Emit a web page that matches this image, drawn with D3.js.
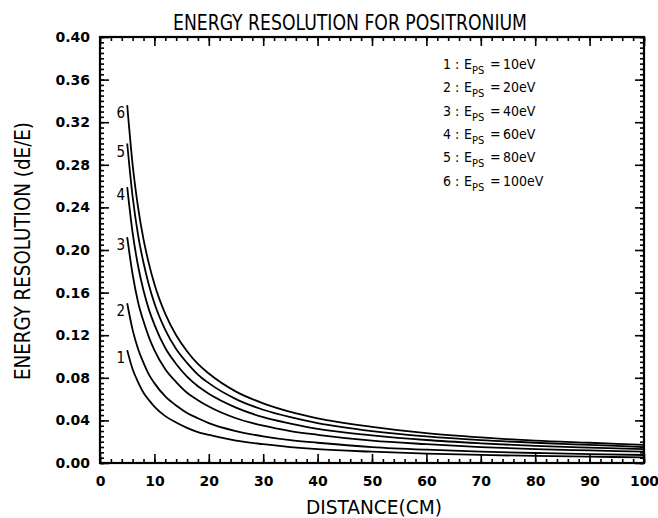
<!DOCTYPE html>
<html lang="en">
<head>
	<meta charset="utf-8">
	<title>Energy resolution for positronium</title>
	<script src="https://d3js.org/d3.v7.min.js" charset="utf-8"></script>
	<style>
		body { margin: 0; background: #fff; }
		text { fill: #000; }
	</style>
</head>
<body>
	<script>
		// distance (cm) at which the curves were read
		var distance = [5, 6, 7, 8, 9, 10, 12, 14, 16, 18, 20, 25, 30, 35, 40, 50, 60, 70, 80, 90, 100];

		// dE/E
		var res1 = [0.106, 0.088, 0.076, 0.066, 0.059, 0.053, 0.044, 0.038, 0.033, 0.029, 0.0265, 0.021, 0.0177, 0.015, 0.013, 0.0106, 0.0088, 0.0076, 0.0066, 0.0059, 0.0053];
		var res2 = [0.150, 0.125, 0.107, 0.094, 0.083, 0.075, 0.0625, 0.054, 0.047, 0.042, 0.0375, 0.030, 0.025, 0.0214, 0.019, 0.015, 0.0125, 0.0107, 0.0094, 0.0083, 0.0075];
		var res3 = [0.212, 0.177, 0.151, 0.133, 0.118, 0.106, 0.088, 0.076, 0.066, 0.059, 0.053, 0.042, 0.035, 0.030, 0.0265, 0.021, 0.0177, 0.015, 0.013, 0.0118, 0.0106];
		var res4 = [0.259, 0.216, 0.185, 0.162, 0.144, 0.130, 0.108, 0.093, 0.081, 0.072, 0.065, 0.052, 0.043, 0.037, 0.032, 0.026, 0.0216, 0.0185, 0.016, 0.0144, 0.013];
		var res5 = [0.300, 0.250, 0.214, 0.188, 0.167, 0.150, 0.125, 0.107, 0.094, 0.083, 0.075, 0.060, 0.050, 0.043, 0.0375, 0.030, 0.025, 0.0215, 0.019, 0.017, 0.015];
		var res6 = [0.336, 0.280, 0.240, 0.210, 0.187, 0.168, 0.140, 0.120, 0.105, 0.093, 0.084, 0.067, 0.056, 0.048, 0.042, 0.034, 0.028, 0.024, 0.021, 0.019, 0.017];

		var curveNames = ["1", "2", "3", "4", "5", "6"];
		var energies = ["10eV", "20eV", "40eV", "60eV", "80eV", "100eV"];
		var xTicks = [0, 10, 20, 30, 40, 50, 60, 70, 80, 90, 100];
		var yTicks = [0, 0.04, 0.08, 0.12, 0.16, 0.20, 0.24, 0.28, 0.32, 0.36, 0.40];

		var w = 658;
		var h = 518;
		var pLeft = 100, pRight = 644, pTop = 37, pBottom = 463;
		var font = "'DejaVu Sans Condensed', 'DejaVu Sans', sans-serif";

		var svg = d3.select("body")
			.append("svg")
			.attr("width", w)
			.attr("height", h);

		var xScale = d3.scaleLinear().domain([0, 100]).range([pLeft, pRight]);
		var yScale = d3.scaleLinear().domain([0, 0.40]).range([pBottom, pTop]);

		// minor ticks first, every 2 cm and every 0.005
		var xMinor = d3.range(0, 101, 2);
		var yMinor = d3.range(0, 0.4001, 0.005);

		function tickGroup(axis, tx, ty) {
			var g = svg.append("g")
				.attr("transform", "translate(" + tx + "," + ty + ")")
				.call(axis);
			g.select(".domain").remove();
			g.selectAll("line").attr("stroke", "#000").attr("stroke-width", 1.6);
			return g;
		}

		tickGroup(d3.axisBottom(xScale).tickValues(xMinor).tickFormat("").tickSizeInner(-4).tickSizeOuter(0), 0, pBottom);
		tickGroup(d3.axisTop(xScale).tickValues(xMinor).tickFormat("").tickSizeInner(-4).tickSizeOuter(0), 0, pTop);
		tickGroup(d3.axisLeft(yScale).tickValues(yMinor).tickFormat("").tickSizeInner(-4).tickSizeOuter(0), pLeft, 0);
		tickGroup(d3.axisRight(yScale).tickValues(yMinor).tickFormat("").tickSizeInner(-4).tickSizeOuter(0), pRight, 0);

		// major ticks with labels
		var xAxis = tickGroup(d3.axisBottom(xScale).tickValues(xTicks).tickFormat(d3.format("d"))
			.tickSizeInner(-9).tickSizeOuter(0).tickPadding(13), 0, pBottom);
		var yAxis = tickGroup(d3.axisLeft(yScale).tickValues(yTicks).tickFormat(d3.format(".2f"))
			.tickSizeInner(-9).tickSizeOuter(0).tickPadding(10), pLeft, 0);
		tickGroup(d3.axisTop(xScale).tickValues(xTicks).tickFormat("").tickSizeInner(-9).tickSizeOuter(0), 0, pTop);
		tickGroup(d3.axisRight(yScale).tickValues(yTicks).tickFormat("").tickSizeInner(-9).tickSizeOuter(0), pRight, 0);

		xAxis.selectAll("text")
			.attr("font-family", "'DejaVu Sans', sans-serif")
			.attr("font-size", 14)
			.attr("font-weight", "bold");
		yAxis.selectAll("text")
			.attr("font-family", "'DejaVu Sans', sans-serif")
			.attr("font-size", 14)
			.attr("font-weight", "bold");

		// frame
		svg.append("rect")
			.attr("x", pLeft)
			.attr("y", pTop)
			.attr("width", pRight - pLeft)
			.attr("height", pBottom - pTop)
			.attr("fill", "none")
			.attr("stroke", "#000")
			.attr("stroke-width", 2.2);

		// curves
		var allRes = [res1, res2, res3, res4, res5, res6];
		var line = d3.line()
			.x(function(d, i) { return xScale(distance[i]); })
			.y(function(d) { return yScale(d); })
			.curve(d3.curveMonotoneX);

		svg.selectAll(".curve")
			.data(allRes)
			.enter()
			.append("path")
			.attr("class", "curve")
			.attr("d", line)
			.attr("fill", "none")
			.attr("stroke", "#000")
			.attr("stroke-width", 1.8);

		// curve numbers beside the start of each line
		svg.selectAll(".cnum")
			.data(allRes)
			.enter()
			.append("text")
			.attr("class", "cnum")
			.attr("x", xScale(distance[0]) - 2)
			.attr("y", function(d) { return yScale(d[0]) + 13; })
			.attr("text-anchor", "end")
			.attr("font-family", font)
			.attr("font-size", 15)
			.text(function(d, i) { return curveNames[i]; });

		// legend
		var legend = svg.selectAll(".leg")
			.data(energies)
			.enter()
			.append("g")
			.attr("class", "leg")
			.attr("transform", function(d, i) { return "translate(0," + (69 + i * 23.3) + ")"; })
			.attr("font-family", font)
			.attr("font-size", 14);

		legend.append("text").attr("x", 443).text(function(d, i) { return curveNames[i]; });
		legend.append("text").attr("x", 455).text(":");
		legend.append("text").attr("x", 464).text("E");
		legend.append("text").attr("x", 472).attr("y", 5).attr("font-size", 11).text("PS");
		legend.append("text").attr("x", 490).text("=");
		legend.append("text").attr("x", 503).text(function(d) { return d; });

		// titles
		svg.append("text")
			.attr("x", 350)
			.attr("y", 30)
			.attr("text-anchor", "middle")
			.attr("font-family", font)
			.attr("font-size", 21)
			.attr("textLength", 354)
			.attr("lengthAdjust", "spacingAndGlyphs")
			.text("ENERGY RESOLUTION FOR POSITRONIUM");

		svg.append("text")
			.attr("x", 374)
			.attr("y", 514)
			.attr("text-anchor", "middle")
			.attr("font-family", font)
			.attr("font-size", 20)
			.attr("textLength", 136)
			.attr("lengthAdjust", "spacingAndGlyphs")
			.text("DISTANCE(CM)");

		svg.append("text")
			.attr("transform", "translate(30,251) rotate(-90)")
			.attr("text-anchor", "middle")
			.attr("font-family", font)
			.attr("font-size", 21)
			.attr("textLength", 258)
			.attr("lengthAdjust", "spacingAndGlyphs")
			.text("ENERGY RESOLUTION (dE/E)");
	</script>
</body>
</html>
